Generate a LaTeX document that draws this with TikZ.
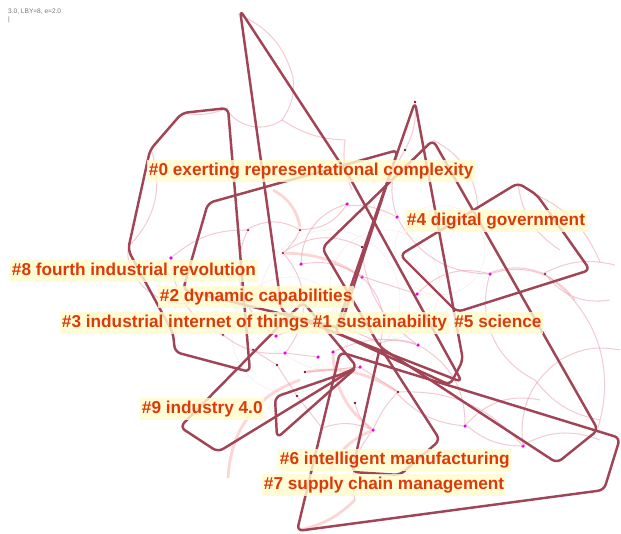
\documentclass[tikz,border=0pt]{standalone}
\usepackage{fontspec}
\setmainfont{Liberation Sans}
\usetikzlibrary{positioning}
\definecolor{hullred}{RGB}{160,68,86}
\definecolor{linkpink}{RGB}{232,160,178}
\definecolor{linksalmon}{RGB}{248,165,160}
\definecolor{labelred}{RGB}{222,58,8}
\definecolor{labelbg}{RGB}{255,251,205}
\definecolor{nodemag}{RGB}{232,0,232}
\definecolor{nodedark}{RGB}{128,18,58}

\begin{document}
\begin{tikzpicture}[
    x=0.03cm, y=-0.03cm,
    hull/.style={draw=hullred, line width=2.1pt, rounded corners=5pt, line join=round},
    link/.style={draw=linkpink, line width=0.9pt, opacity=0.55},
    fatlink/.style={draw=linksalmon, line width=2.4pt, opacity=0.45},
    ring/.style={draw=hullred!45, line width=0.5pt, opacity=0.22},
    dotm/.style={circle, fill=nodemag, inner sep=0pt, minimum size=3pt},
    dotd/.style={circle, fill=nodedark, inner sep=0pt, minimum size=2.4pt},
    clabel/.style={fill=labelbg, fill opacity=0.82, text opacity=1, text=labelred,
                   font=\bfseries\fontsize{14.7}{16}\selectfont, inner xsep=1.5pt,
                   inner ysep=2pt, text height=11pt, text depth=3.5pt}
]
\useasboundingbox (0,0) rectangle (621,533);

% settings line
\node[anchor=west, font=\fontsize{5.6}{6}\selectfont, text=black!55, inner sep=0pt] (info) at (8,12) {3.0, LBY=8, e=2.0};
\node[below=1.5pt of info.south west, anchor=north west, font=\fontsize{5.6}{6}\selectfont, text=black!55, inner sep=0pt] (bar) {|};

% cited references
\node[dotm] (m1) at (171,258) {};  \node[dotm] (m2) at (347,204) {};  \node[dotm] (m3) at (397,217) {};
\node[dotm] (m4) at (301,264) {};  \node[dotm] (m5) at (362,277) {};  \node[dotm] (m6) at (417,294) {};
\node[dotm] (m7) at (418,345) {};  \node[dotm] (m8) at (333,352) {};  \node[dotm] (m9) at (318,357) {};
\node[dotm] (m10) at (285,353) {}; \node[dotm] (m11) at (360,367) {}; \node[dotm] (m12) at (373,430) {};
\node[dotm] (m13) at (465,426) {}; \node[dotm] (m14) at (523,446) {}; \node[dotm] (m15) at (490,274) {};
\node[dotm] (m16) at (276,336) {};
\node[dotd] (d1) at (248,230) {};  \node[dotd] (d2) at (300,230) {};  \node[dotd] (d3) at (283,253) {};
\node[dotd] (d4) at (362,247) {};  \node[dotd] (d5) at (545,274) {};  \node[dotd] (d6) at (380,344) {};
\node[dotd] (d7) at (277,365) {};  \node[dotd] (d8) at (253,350) {};  \node[dotd] (d9) at (223,335) {};
\node[dotd] (d10) at (398,392) {}; \node[dotd] (d11) at (322,428) {}; \node[dotd] (d12) at (297,396) {};
\node[dotd] (d13) at (355,403) {}; \node[dotd] (d14) at (305,372) {}; \node[dotd] (d15) at (405,150) {};
\node[dotd] (d16) at (415,102) {};

% co-citation links
\draw[ring] (330,300) circle (70) (385,285) circle (55) (290,335) circle (58) (440,250) circle (45);
\draw[link] (238,14) to[bend left=25] (293,77) to[bend left=20] (282,120) to[bend left=45] (227,110);
\draw[link] (282,120) to[bend right=15] (345,140) to[bend right=15] (352,190);
\draw[link] (130,245) to[bend right=30] (152,152) (182,113) to[bend right=15] (228,108);
\draw[link] (m1) to[bend left=20] (d1) to[bend left=30] (d2) to[bend right=30] (m2) to[bend left=15] (m3);
\draw[link] (d2) to[bend left=10] (d3) to[bend left=30] (d4) (m4) to[bend left=20] (m5) to (m6);
\draw[link] (m6) to[bend left=30] (m15) to[bend left=20] (d5) to[bend left=20] (615,265);
\draw[link] (m3) to[bend right=30] (m15) (d15) to[bend right=25] (m3) (d16) to[bend left=15] (d15);
\draw[link] (m7) to[bend left=30] (m13) to[bend right=20] (m14) to[bend left=25] (600,440);
\draw[link] (d5) to[bend left=35] (598,428) (m12) to[bend left=10] (d10) to[bend right=20] (m13);
\draw[link] (m8) to[bend left=20] (m7) (m9) to (m10) to[bend left=20] (d9) to[bend left=30] (m1);
\draw[link] (d8) to (d7) to (d12) to (d11) to[bend left=20] (m12) (d14) to (m11) to (d10);
\draw[link] (m12) to[bend right=25] (355,500) (m14) to[bend left=30] (560,360) to[bend left=20] (620,350);
\draw[link] (m15) to[bend right=40] (535,380) to[bend right=20] (600,420);
\draw[link] (128,250) to[bend right=60] (200,300) (m16) to[bend left=25] (d6) to[bend left=20] (m7);
\draw[link] (d1) to[bend right=40] (m16) (d3) to[bend left=40] (m10) (d4) to[bend right=25] (m7);
\draw[link] (433,140) to[bend left=30] (478,210) (518,183) to[bend right=25] (560,250) (537,195) to[bend left=20] (600,262);
\draw[link] (m2) to[bend right=35] (m4) (m5) to[bend left=30] (d6) (d13) to[bend right=20] (m12) (d10) to[bend left=25] (m14);
\draw[link] (m15) to[bend left=35] (575,300) (d5) to[bend right=30] (610,300) (m13) to[bend left=30] (540,400);
\draw[fatlink] (273,190) to[bend left=25] (300,227) (d3) to[bend left=15] (m5);
\draw[fatlink] (300,380) to[bend right=20] (240,430) to[bend right=10] (228,478);
\draw[fatlink] (m12) to[bend right=20] (330,470) (355,500) to[bend left=15] (300,530);
\draw[fatlink] (d14) to[bend left=20] (d10) (m8) to[bend right=25] (m12);

% cluster hulls
\draw[hull] (240,10) -- (350,178) -- (462,382) -- (282,312) -- cycle;
\draw[hull] (415,102) -- (463,360) -- (450,385) -- (335,332) -- cycle;
\draw[hull] (322,248) -- (433,140) -- (598,430) -- (557,463) -- (380,347) -- cycle;
\draw[hull] (518,183) -- (537,195) -- (590,270) -- (457,312) -- (400,255) -- cycle;
\draw[hull] (340,352) -- (620,438) -- (604,490) -- (297,531) -- cycle;
\draw[hull] (128,250) -- (150,150) -- (182,113) -- (228,108) -- (250,372) -- (175,352) -- (173,333) -- cycle;
\draw[hull] (183,290) -- (208,203) -- (398,150) -- (340,328) -- cycle;
\draw[hull] (180,427) -- (218,452) -- (357,367) -- (303,302) -- cycle;
\draw[hull] (275,397) -- (345,373) -- (357,367) -- (277,438) -- cycle;
\draw[hull] (380,347) -- (440,440) -- (400,475) -- (352,472) -- cycle;

% cluster labels
\node[clabel, anchor=west] (c0) at (147,171) {\#0 exerting representational complexity};
\node[clabel, anchor=west] (c4) at (405,221) {\#4 digital government};
\node[clabel, anchor=west] (c8) at (10,271)  {\#8 fourth industrial revolution};
\node[clabel, anchor=west] (c2) at (158,297) {\#2 dynamic capabilities};
\node[clabel, anchor=west] (c3) at (60,323)  {\#3 industrial internet of things};
\node[clabel, right=0pt of c3] (c1) {\#1 sustainability};
\node[clabel, right=3pt of c1] (c5) {\#5 science};
\node[clabel, anchor=west] (c9) at (140,409) {\#9 industry 4.0};
\node[clabel, anchor=west] (c6) at (278,460) {\#6 intelligent manufacturing};
\node[clabel, anchor=west] (c7) at (262,485) {\#7 supply chain management};

\end{tikzpicture}
\end{document}
